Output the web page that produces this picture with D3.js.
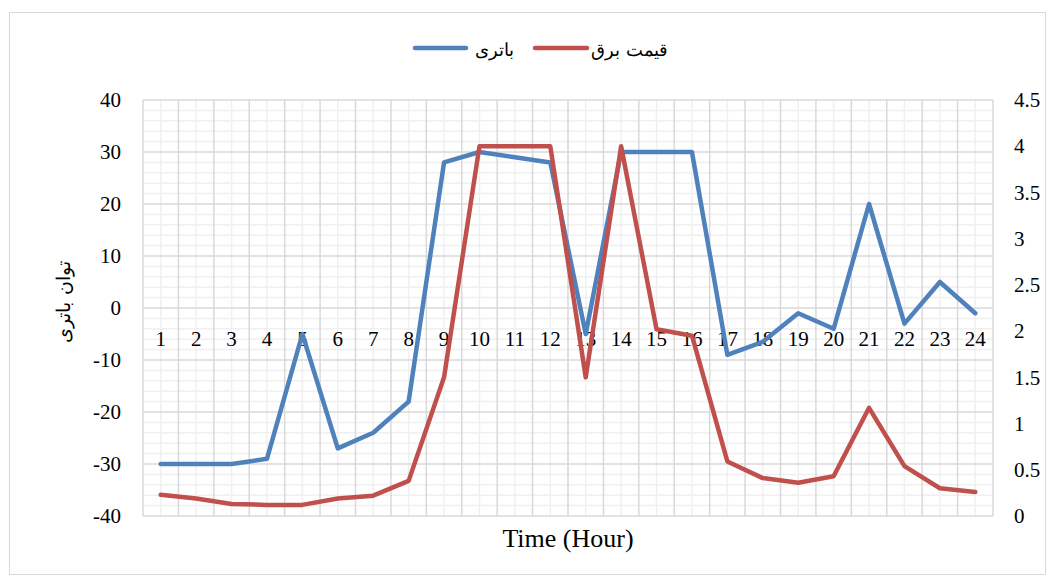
<!DOCTYPE html>
<html><head><meta charset="utf-8">
<script src="https://cdn.jsdelivr.net/npm/d3@7"></script>
<style>body{margin:0;background:#fff}svg{display:block}</style>
</head><body>
<svg id="c" width="1057" height="580"></svg>
<script>
const hours = ["1","2","3","4","5","6","7","8","9","10","11","12","13","14","15","16","17","18","19","20","21","22","23","24"];
const battery = [-30,-30,-30,-29,-5,-27,-24,-18,28,30,29,28,-5,30,30,30,-9,-6.5,-1,-4,20,-3,5,-1];
const price = [0.23,0.19,0.13,0.12,0.12,0.19,0.22,0.38,1.5,4,4,4,1.5,4,2.02,1.95,0.59,0.41,0.36,0.43,1.17,0.54,0.3,0.26];
const leftTicks = [-40,-30,-20,-10,0,10,20,30,40];
const rightTicks = [0,0.5,1,1.5,2,2.5,3,3.5,4,4.5];
const seriesNames = ["باتری","قیمت برق"];
const xTitle = "Time (Hour)";
const yTitle = "توان باتری";

const svg = d3.select("#c");
const L=143,R=993,T=100,B=516;
const serif = "'Liberation Serif','Times New Roman',serif";

svg.append("rect").attr("x",9.5).attr("y",12.5).attr("width",1036).attr("height",562)
  .attr("fill","none").attr("stroke","#d9d9d9");

const x = d3.scaleBand().domain(hours).range([L,R]);
const yL = d3.scaleLinear().domain([-40,40]).range([B,T]);
const yR = d3.scaleLinear().domain([0,4.5]).range([B,T]);

const g = svg.append("g");
g.selectAll(".hm").data(d3.range(-40,41,2).filter(v=>v%10!==0)).join("line")
  .attr("x1",L).attr("x2",R).attr("y1",d=>yL(d)).attr("y2",d=>yL(d))
  .attr("stroke","#f0f0f0").attr("stroke-width",1.5);
g.selectAll(".vm").data(hours).join("line")
  .attr("x1",d=>x(d)+x.bandwidth()/2).attr("x2",d=>x(d)+x.bandwidth()/2).attr("y1",T).attr("y2",B)
  .attr("stroke","#f0f0f0").attr("stroke-width",1.5);
g.selectAll(".hM").data(leftTicks).join("line")
  .attr("x1",L).attr("x2",R).attr("y1",d=>yL(d)).attr("y2",d=>yL(d))
  .attr("stroke","#d9d9d9").attr("stroke-width",1.5);
const bounds = hours.map(h=>x(h)).concat([R]);
g.selectAll(".vM").data(bounds).join("line")
  .attr("x1",d=>d).attr("x2",d=>d).attr("y1",T).attr("y2",B)
  .attr("stroke","#d9d9d9").attr("stroke-width",1.5);

const axL = d3.axisLeft(yL).tickValues(leftTicks).tickFormat(d=>String(d)).tickSize(0).tickPadding(0);
const gL = svg.append("g").attr("transform",`translate(${L-22},0)`).call(axL);
gL.select(".domain").remove();
gL.selectAll("text").attr("font-family",serif).attr("font-size",21).attr("fill","#000");
const axR = d3.axisRight(yR).tickValues(rightTicks).tickFormat(d=>String(d)).tickSize(0).tickPadding(0);
const gR = svg.append("g").attr("transform",`translate(${R+21},0)`).call(axR);
gR.select(".domain").remove();
gR.selectAll("text").attr("font-family",serif).attr("font-size",21).attr("fill","#000");
const axX = d3.axisBottom(x).tickSize(0).tickPadding(0);
const gX = svg.append("g").attr("transform",`translate(0,${yL(0)+23})`).call(axX);
gX.select(".domain").remove();
gX.selectAll("text").attr("font-family",serif).attr("font-size",21).attr("fill","#000");

const cx = d=>x(d)+x.bandwidth()/2;
const lineB = d3.line().x((d,i)=>cx(hours[i])).y(d=>yL(d));
const lineP = d3.line().x((d,i)=>cx(hours[i])).y(d=>yR(d));
svg.append("path").attr("d",lineB(battery)).attr("fill","none").attr("stroke","#4F81BD")
  .attr("stroke-width",4.5).attr("stroke-linejoin","round").attr("stroke-linecap","round");
svg.append("path").attr("d",lineP(price)).attr("fill","none").attr("stroke","#C0504D")
  .attr("stroke-width",4.5).attr("stroke-linejoin","round").attr("stroke-linecap","round");

svg.append("text").attr("x",568).attr("y",547).attr("text-anchor","middle")
  .attr("font-family",serif).attr("font-size",26).attr("fill","#000").text(xTitle);
svg.append("text").attr("transform","translate(70,302) rotate(-90)").attr("text-anchor","middle")
  .attr("font-family","'DejaVu Serif','Liberation Serif',serif").attr("font-size",19).attr("fill","#000").text(yTitle);

const leg = [{n:seriesNames[0],c:"#4F81BD",x1:415,x2:466,tx:514},{n:seriesNames[1],c:"#C0504D",x1:535,x2:587,tx:668}];
leg.forEach(l=>{
  svg.append("line").attr("x1",l.x1).attr("x2",l.x2).attr("y1",48).attr("y2",48)
    .attr("stroke",l.c).attr("stroke-width",4.5).attr("stroke-linecap","round");
  svg.append("text").attr("x",l.tx).attr("y",56).attr("text-anchor","end")
    .attr("font-family","'DejaVu Serif','Liberation Serif',serif").attr("font-size",18).attr("fill","#000").text(l.n);
});
</script>
</body></html>
